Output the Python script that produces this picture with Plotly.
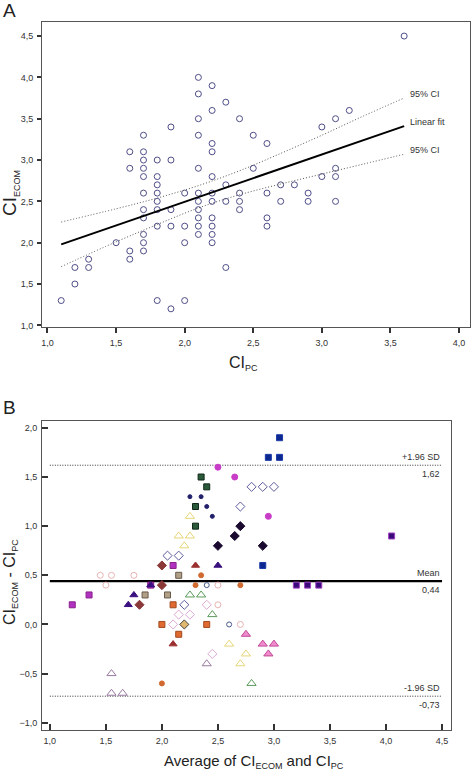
import plotly.graph_objects as go

# ---------------- Panel A data ----------------
a_x = [3.6, 2.1, 2.2, 2.1, 2.3, 2.2, 3.0, 3.1, 3.2, 2.1, 2.4, 1.9, 1.7, 2.1, 2.5, 2.6, 2.2,
       1.6, 1.7, 2.2,
       1.7, 1.8, 1.9,
       1.6, 1.7, 2.1, 2.5, 3.1,
       1.7, 1.8, 2.2, 3.0, 3.1,
       1.8, 2.3, 2.7, 2.8,
       1.7, 1.8, 2.0, 2.1, 2.2, 2.4, 2.6, 2.9,
       1.8, 2.1, 2.2, 2.3, 2.4, 2.7, 2.9, 3.1,
       1.7, 1.8, 1.9, 2.1, 2.4,
       1.7, 2.1, 2.2, 2.6,
       1.8, 1.9, 2.0, 2.1, 2.2, 2.6,
       1.7, 2.1, 2.2,
       1.5, 1.7, 2.0, 2.2,
       1.6, 1.7,
       1.3, 1.6,
       1.2, 1.3, 2.3,
       1.2,
       1.1, 1.8, 2.0,
       1.9]
a_y = [4.5, 4.0, 3.9, 3.8, 3.7, 3.6, 3.4, 3.5, 3.6, 3.5, 3.5, 3.4, 3.3, 3.3, 3.3, 3.2, 3.2,
       3.1, 3.1, 3.1,
       3.0, 3.0, 3.0,
       2.9, 2.9, 2.9, 2.9, 2.9,
       2.8, 2.8, 2.8, 2.8, 2.8,
       2.7, 2.7, 2.7, 2.7,
       2.6, 2.6, 2.6, 2.6, 2.6, 2.6, 2.6, 2.6,
       2.5, 2.5, 2.5, 2.5, 2.5, 2.5, 2.5, 2.5,
       2.4, 2.4, 2.4, 2.4, 2.4,
       2.3, 2.3, 2.3, 2.3,
       2.2, 2.2, 2.2, 2.2, 2.2, 2.2,
       2.1, 2.1, 2.1,
       2.0, 2.0, 2.0, 2.0,
       1.9, 1.9,
       1.8, 1.8,
       1.7, 1.7, 1.7,
       1.5,
       1.3, 1.3, 1.3,
       1.2]

fit_x = [1.1, 3.6]
fit_y = [1.98, 3.41]
ci_x = [1.1, 1.5, 1.8, 2.1, 2.4, 2.7, 3.0, 3.3, 3.6]
ci_upper = [2.25, 2.41, 2.54, 2.69, 2.87, 3.08, 3.30, 3.53, 3.75]
ci_lower = [1.71, 2.01, 2.22, 2.42, 2.58, 2.71, 2.83, 2.95, 3.07]

# ---------------- Panel B data (by marker group) ----------------
blue_sq_x = [3.05, 2.95, 3.05, 2.9];          blue_sq_y = [1.9, 1.7, 1.7, 0.6]
mag_circ_x = [2.5, 2.65, 2.95];               mag_circ_y = [1.6, 1.5, 1.1]
open_dia_x = [2.8, 2.9, 3.0, 2.7, 2.05, 2.15, 2.2]; open_dia_y = [1.4, 1.4, 1.4, 1.2, 0.7, 0.7, 0.2]
green_sq_x = [2.35, 2.4, 2.3, 2.3];           green_sq_y = [1.5, 1.4, 1.2, 1.0]
navy_dot_x = [2.25, 2.35, 2.4, 2.45];         navy_dot_y = [1.3, 1.3, 1.2, 1.1]
yellow_tri_x = [2.25, 2.15, 2.25, 2.2, 2.6, 2.75, 2.7]; yellow_tri_y = [1.1, 0.9, 0.9, 0.8, -0.2, -0.3, -0.4]
dark_dia_x = [2.7, 2.65, 2.5, 2.9];           dark_dia_y = [1.0, 0.9, 0.8, 0.8]
purple_sq_x = [4.05, 3.2, 3.3, 3.4];          purple_sq_y = [0.9, 0.4, 0.4, 0.4]
brown_dia_x = [2.0, 2.0, 1.8];                brown_dia_y = [0.6, 0.4, 0.2]
mag_sq_x = [2.1, 1.2, 1.35, 1.9];             mag_sq_y = [0.6, 0.2, 0.3, 0.4]
red_tri_x = [2.3, 2.1];                       red_tri_y = [0.6, -0.2]
navy_tri_x = [2.5, 1.9, 1.75, 1.7];           navy_tri_y = [0.6, 0.4, 0.3, 0.2]
tan_sq_x = [2.15, 1.85, 2.05];                tan_sq_y = [0.5, 0.3, 0.3]
orange_circ_x = [2.35, 2.3, 2.7, 2.0];        orange_circ_y = [0.5, 0.4, 0.4, -0.6]
pink_circ_x = [1.45, 1.55, 1.75, 1.5, 2.5, 2.5, 2.7]; pink_circ_y = [0.5, 0.5, 0.5, 0.4, 0.4, 0.2, 0.0]
blue_circ_x = [2.4, 2.6];                     blue_circ_y = [0.4, 0.0]
pink_dia_x = [2.4, 2.15, 2.25, 2.1, 2.45];    pink_dia_y = [0.2, 0.1, 0.1, 0.0, -0.3]
green_tri_x = [2.25, 2.35, 2.45, 2.8];        green_tri_y = [0.3, 0.3, 0.1, -0.6]
orange_sq_x = [2.1, 2.0, 2.4, 2.15];          orange_sq_y = [0.2, 0.0, 0.0, -0.1]
gold_dia_x = [2.2];                           gold_dia_y = [0.0]
pink_tri_x = [2.75, 2.9, 3.0, 2.95];          pink_tri_y = [-0.1, -0.2, -0.2, -0.3]
mauve_tri_x = [2.4, 1.55, 1.55, 1.65];        mauve_tri_y = [-0.4, -0.5, -0.7, -0.7]

mean_diff = 0.44
upper_loa = 1.62
lower_loa = -0.73
ba_line_x = [1.0, 4.5]

W, H = 472, 773
FONT = "Arial, 'Liberation Sans', sans-serif"

fig = go.Figure()

# Panel A
fig.add_trace(go.Scatter(x=a_x, y=a_y, mode="markers", xaxis="x", yaxis="y",
                         marker=dict(symbol="circle-open", size=6, color="#4e4e88",
                                     line=dict(width=1, color="#4e4e88")),
                         showlegend=False, hoverinfo="skip"))
fig.add_trace(go.Scatter(x=ci_x, y=ci_upper, mode="lines", xaxis="x", yaxis="y",
                         line=dict(color="#555555", width=1, dash="1px,2px", shape="spline"),
                         showlegend=False))
fig.add_trace(go.Scatter(x=ci_x, y=ci_lower, mode="lines", xaxis="x", yaxis="y",
                         line=dict(color="#555555", width=1, dash="1px,2px", shape="spline"),
                         showlegend=False))
fig.add_trace(go.Scatter(x=fit_x, y=fit_y, mode="lines", xaxis="x", yaxis="y",
                         line=dict(color="#000000", width=2), showlegend=False))

# Panel B reference lines
fig.add_trace(go.Scatter(x=ba_line_x, y=[upper_loa] * 2, mode="lines", xaxis="x2", yaxis="y2",
                         line=dict(color="#333333", width=1, dash="1px,1.5px"), showlegend=False))
fig.add_trace(go.Scatter(x=ba_line_x, y=[lower_loa] * 2, mode="lines", xaxis="x2", yaxis="y2",
                         line=dict(color="#333333", width=1, dash="1px,1.5px"), showlegend=False))
fig.add_trace(go.Scatter(x=ba_line_x, y=[mean_diff] * 2, mode="lines", xaxis="x2", yaxis="y2",
                         line=dict(color="#000000", width=2.2), showlegend=False))

groups = [
    (pink_circ_x, pink_circ_y, "circle-open", 6, "#e8b4b4", "#e8b4b4"),
    (pink_dia_x, pink_dia_y, "diamond-open", 7, "#dcaad4", "#dcaad4"),
    (yellow_tri_x, yellow_tri_y, "triangle-up-open", 8, "#e6d678", "#e6d678"),
    (green_tri_x, green_tri_y, "triangle-up-open", 8, "#5a9a5a", "#5a9a5a"),
    (mauve_tri_x, mauve_tri_y, "triangle-up-open", 8, "#9a7aa0", "#9a7aa0"),
    (open_dia_x, open_dia_y, "diamond-open", 7, "#5c5c9c", "#5c5c9c"),
    (blue_circ_x, blue_circ_y, "circle-open", 5, "#4a5a8a", "#4a5a8a"),
    (blue_sq_x, blue_sq_y, "square", 6, "#0c2890", "#1c3aa8"),
    (mag_circ_x, mag_circ_y, "circle", 6, "#c83cc8", "#c83cc8"),
    (green_sq_x, green_sq_y, "square", 6, "#2a5a3a", "#102818"),
    (navy_dot_x, navy_dot_y, "circle", 4, "#22206a", "#22206a"),
    (dark_dia_x, dark_dia_y, "diamond", 7, "#1a0a30", "#1a0a30"),
    (purple_sq_x, purple_sq_y, "square", 6, "#3a0a7a", "#a040c0"),
    (brown_dia_x, brown_dia_y, "diamond", 7, "#8a3838", "#8a3838"),
    (mag_sq_x, mag_sq_y, "square", 6, "#b030c0", "#8a208a"),
    (red_tri_x, red_tri_y, "triangle-up", 7, "#9a3030", "#9a3030"),
    (navy_tri_x, navy_tri_y, "triangle-up", 7, "#3a1080", "#3a1080"),
    (tan_sq_x, tan_sq_y, "square", 6, "#b0a088", "#6a5a4a"),
    (orange_circ_x, orange_circ_y, "circle", 5, "#d06a30", "#d06a30"),
    (orange_sq_x, orange_sq_y, "square", 6, "#e06a30", "#a04a20"),
    (gold_dia_x, gold_dia_y, "diamond", 7, "#e0b870", "#404040"),
    (pink_tri_x, pink_tri_y, "triangle-up", 8, "#f08ccc", "#c04898"),
]
for gx, gy, sym, sz, fill, edge in groups:
    fig.add_trace(go.Scatter(x=gx, y=gy, mode="markers", xaxis="x2", yaxis="y2",
                             marker=dict(symbol=sym, size=sz, color=fill,
                                         line=dict(width=1, color=edge)),
                             showlegend=False, hoverinfo="skip"))

tickfont = dict(family=FONT, size=9, color="#333333")
ax_common = dict(showline=True, linecolor="#555555", linewidth=1, mirror=True,
                 showgrid=False, zeroline=False, tickfont=tickfont, tickformat=".1f",
                 tickcolor="#333333", ticklabelstandoff=2, automargin=False,
                 ticklabeloverflow="allow")

fig.update_layout(
    width=W, height=H, margin=dict(l=0, r=0, t=0, b=0, autoexpand=False),
    paper_bgcolor="white", plot_bgcolor="white", separators=", ",
    font=dict(family=FONT, color="#222222"),
    xaxis=dict(domain=[42 / W, 470 / W], range=[0.96, 4.08], anchor="y",
               tickvals=[1.0, 1.5, 2.0, 2.5, 3.0, 3.5, 4.0], ticks="outside", ticklen=5,
               tickwidth=1.5, **ax_common),
    yaxis=dict(domain=[1 - 327 / H, 1 - 22 / H], range=[0.98, 4.67], anchor="x",
               tickvals=[1.0, 1.5, 2.0, 2.5, 3.0, 3.5, 4.0, 4.5], ticks="outside", ticklen=4,
               tickwidth=1.5, **ax_common),
    xaxis2=dict(domain=[42 / W, 451 / W], range=[0.93, 4.58], anchor="y2",
                tickvals=[1.0, 1.5, 2.0, 2.5, 3.0, 3.5, 4.0, 4.5], ticks="inside", ticklen=6,
                tickwidth=2, **ax_common),
    yaxis2=dict(domain=[1 - 730 / H, 1 - 421 / H], range=[-1.074, 2.07], anchor="x2",
                tickvals=[-1.0, -0.5, 0.0, 0.5, 1.0, 1.5, 2.0], ticks="inside", ticklen=6,
                tickwidth=2, **ax_common),
)

def px_ann(text, x, y, size, xanchor="center", yanchor="middle", angle=0, color="#222222"):
    fig.add_annotation(text=text, x=x / W, y=1 - y / H, xref="paper", yref="paper",
                       showarrow=False, xanchor=xanchor, yanchor=yanchor, textangle=angle,
                       font=dict(family=FONT, size=size, color=color))

def small_sub(s, px=9):
    return "<sub><span style='font-size:%dpx'>%s</span></sub>" % (px, s)

# Panel labels and axis titles
px_ann("A", 1, 11, 19, xanchor="left")
px_ann("B", 1, 407, 19, xanchor="left")
px_ann("CI" + small_sub("ECOM"), 10, 193, 19, angle=-90)
px_ann("CI" + small_sub("PC"), 244, 363, 16)
px_ann("CI" + small_sub("ECOM") + " - CI" + small_sub("PC"), 10, 582, 16, angle=-90)
px_ann("Average of CI" + small_sub("ECOM") + " and CI" + small_sub("PC"), 254, 761, 15)

# Line labels panel A
def data_ann(text, x, y, xr, yr, size=9, xanchor="left", yanchor="middle", yshift=0):
    fig.add_annotation(text=text, x=x, y=y, xref=xr, yref=yr, showarrow=False,
                       xanchor=xanchor, yanchor=yanchor, yshift=yshift,
                       font=dict(family=FONT, size=size, color="#333333"))

data_ann("95% CI", 3.63, ci_upper[-1] + 0.05, "x", "y")
data_ann("Linear fit", 3.63, fit_y[-1] + 0.05, "x", "y")
data_ann("95% CI", 3.63, ci_lower[-1] + 0.05, "x", "y")

# Panel B reference line labels
data_ann("+1.96 SD", 4.5, upper_loa, "x2", "y2", xanchor="right", yanchor="bottom", yshift=1)
data_ann("1,62", 4.5, upper_loa, "x2", "y2", xanchor="right", yanchor="top", yshift=-2)
data_ann("Mean", 4.5, mean_diff, "x2", "y2", xanchor="right", yanchor="bottom", yshift=1)
data_ann("0,44", 4.5, mean_diff, "x2", "y2", xanchor="right", yanchor="top", yshift=-2)
data_ann("-1.96 SD", 4.5, lower_loa, "x2", "y2", xanchor="right", yanchor="bottom", yshift=1)
data_ann("-0,73", 4.5, lower_loa, "x2", "y2", xanchor="right", yanchor="top", yshift=-2)

fig.write_html("out.html", config={"displayModeBar": False},
               post_script="document.body.style.margin='0px';")
